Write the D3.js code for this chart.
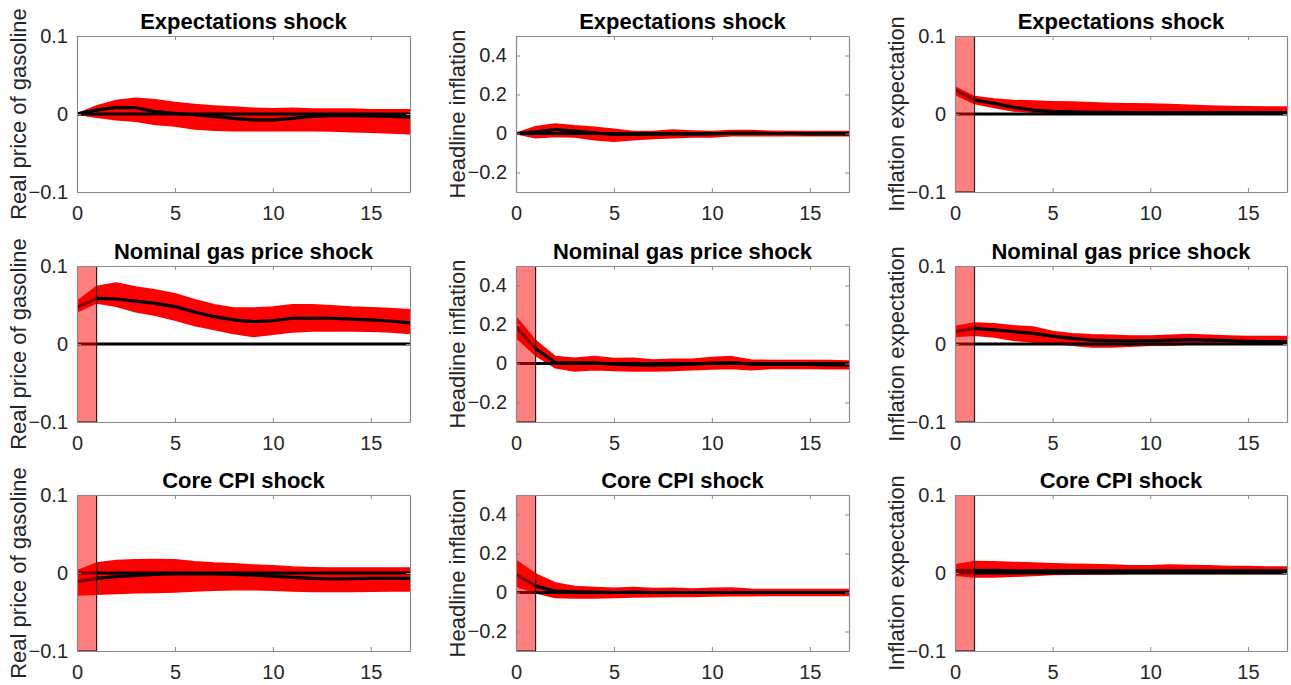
<!DOCTYPE html>
<html>
<head>
<meta charset="utf-8">
<script src="https://cdn.jsdelivr.net/npm/d3@7"></script>
<style>
  html, body { margin: 0; padding: 0; background: #fff; }
  svg text { font-family: "Liberation Sans", Arial, Helvetica, sans-serif; }
</style>
</head>
<body>
<svg id="chart" width="1291" height="685"></svg>
<script>
// ---------------- DATA ----------------
const horizons = [0,1,2,3,4,5,6,7,8,9,10,11,12,13,14,15,16,17];
const xTicks = [0, 5, 10, 15];

const rowTitles = ["Expectations shock", "Nominal gas price shock", "Core CPI shock"];
const colLabels = ["Real price of gasoline", "Headline inflation", "Inflation expectation"];
const colDomains = [[-0.1, 0.1], [-0.3, 0.5], [-0.1, 0.1]];
const colTicks = [[-0.1, 0, 0.1], [-0.2, 0, 0.2, 0.4], [-0.1, 0, 0.1]];
// impact-period shading shown in panel? [row][col]
const shaded = [[false, false, true], [true, true, true], [true, true, true]];

// Row 1: Expectations shock
const expGasUpper = [0,0.010,0.017,0.020,0.018,0.0145,0.012,0.010,0.0085,0.007,0.0065,0.007,0.006,0.006,0.006,0.005,0.005,0.005];
const expGasLower = [0,-0.004,-0.007,-0.009,-0.013,-0.015,-0.019,-0.0205,-0.021,-0.021,-0.021,-0.021,-0.021,-0.0215,-0.0225,-0.023,-0.024,-0.025];
const expGasMedian = [0,0.005,0.0085,0.008,0.003,0.001,-0.001,-0.003,-0.0055,-0.0075,-0.0075,-0.0055,-0.003,-0.002,-0.002,-0.0025,-0.003,-0.004];

const expHeadUpper = [0,0.034,0.048,0.038,0.031,0.0205,0.0085,0.0085,0.017,0.012,0.0085,0.0137,0.0137,0.010,0.0085,0.0085,0.0085,0.0085];
const expHeadLower = [0,-0.0205,-0.0137,-0.017,-0.031,-0.038,-0.031,-0.024,-0.0205,-0.017,-0.017,-0.010,-0.010,-0.010,-0.010,-0.010,-0.010,-0.010];
const expHeadMedian = [0,0.0085,0.0205,0.012,0.003,-0.005,-0.005,-0.003,-0.002,-0.003,-0.002,0.002,0.002,0,0,-0.002,-0.002,-0.002];

const expExpUpper = [0.034,0.022,0.0188,0.017,0.0162,0.0154,0.015,0.014,0.0132,0.0128,0.0124,0.012,0.011,0.010,0.0094,0.009,0.0085,0.0085];
const expExpLower = [0.0256,0.0137,0.0085,0.0043,0.0026,0.0017,0.0017,0.0017,0.0017,0.0017,0.0017,0.0017,0.0017,0.0017,0.0017,0.0017,0.0017,0.0017];
const expExpMedian = [0.031,0.018,0.0137,0.0085,0.005,0.0034,0.0026,0.0022,0.002,0.0018,0.0017,0.0017,0.0017,0.0017,0.0017,0.0017,0.0017,0.0017];

// Row 2: Nominal gas price shock
const gasGasUpper = [0.054,0.0735,0.078,0.0727,0.069,0.064,0.0564,0.050,0.0457,0.0457,0.047,0.050,0.050,0.0487,0.047,0.046,0.0453,0.0436];
const gasGasLower = [0.0415,0.053,0.0487,0.0415,0.037,0.031,0.024,0.019,0.0137,0.010,0.0128,0.0158,0.017,0.017,0.017,0.0167,0.0158,0.0137];
const gasGasMedian = [0.047,0.0585,0.0577,0.055,0.052,0.048,0.041,0.035,0.031,0.0286,0.030,0.033,0.033,0.033,0.032,0.031,0.0295,0.027];

const gasHeadUpper = [0.236,0.116,0.034,0.0256,0.034,0.024,0.0256,0.017,0.0205,0.0205,0.029,0.034,0.017,0.0137,0.0137,0.0137,0.0137,0.012];
const gasHeadLower = [0.137,0.043,-0.0205,-0.0376,-0.031,-0.034,-0.0376,-0.0376,-0.034,-0.031,-0.027,-0.024,-0.031,-0.024,-0.024,-0.024,-0.0256,-0.0256];
const gasHeadMedian = [0.188,0.077,0.005,0.0034,0.0034,-0.0034,-0.0068,-0.0085,-0.0068,-0.0034,0.0017,0.005,-0.0034,-0.005,-0.005,-0.005,-0.0068,-0.0068];

const gasExpUpper = [0.022,0.0265,0.0256,0.023,0.0214,0.0158,0.0128,0.0115,0.011,0.010,0.010,0.011,0.012,0.011,0.010,0.0094,0.0094,0.0094];
const gasExpLower = [0.010,0.0115,0.0094,0.005,0.003,0.0009,-0.0013,-0.0034,-0.0034,-0.0026,-0.0013,-0.0013,0,0,0,0,0,0];
const gasExpMedian = [0.0158,0.020,0.018,0.0158,0.0137,0.010,0.0073,0.005,0.0043,0.004,0.0043,0.005,0.0056,0.005,0.0043,0.0034,0.003,0.003];

// Row 3: Core CPI shock
const coreGasUpper = [0.0026,0.0124,0.0158,0.0167,0.017,0.0167,0.014,0.0124,0.0115,0.010,0.009,0.0073,0.0064,0.006,0.006,0.006,0.006,0.006];
const coreGasLower = [-0.028,-0.027,-0.026,-0.025,-0.0248,-0.024,-0.0226,-0.0218,-0.021,-0.021,-0.0218,-0.0226,-0.0235,-0.0235,-0.0235,-0.023,-0.0226,-0.0226];
const coreGasMedian = [-0.011,-0.007,-0.0047,-0.003,-0.0017,-0.0013,-0.0013,-0.0013,-0.0017,-0.0026,-0.004,-0.0055,-0.007,-0.0077,-0.0073,-0.007,-0.007,-0.007];

const coreHeadUpper = [0.162,0.094,0.048,0.029,0.024,0.0205,0.024,0.019,0.0205,0.017,0.0205,0.022,0.015,0.0137,0.0137,0.0137,0.0137,0.0137];
const coreHeadLower = [0.034,0,-0.024,-0.027,-0.027,-0.024,-0.022,-0.0205,-0.019,-0.019,-0.017,-0.015,-0.015,-0.0137,-0.0137,-0.0137,-0.0137,-0.0137];
const coreHeadMedian = [0.094,0.034,0.0068,0.0034,0.0017,0,0.0017,0,0,0,0,0,0,0,0,0,0,0];

const coreExpUpper = [0.010,0.0145,0.014,0.0132,0.0124,0.0115,0.011,0.0105,0.0098,0.009,0.009,0.010,0.0094,0.009,0.0081,0.0081,0.0073,0.0073];
const coreExpLower = [-0.0026,-0.0047,-0.0047,-0.0038,-0.003,-0.0017,-0.0013,-0.0009,-0.0009,-0.0004,-0.0004,-0.0004,-0.0004,-0.0004,-0.0004,-0.0004,-0.0004,-0.0004];
const coreExpMedian = [0.003,0.003,0.0034,0.0026,0.0026,0.0026,0.0026,0.0026,0.0026,0.0026,0.0026,0.0026,0.0026,0.0026,0.0026,0.0026,0.0026,0.0026];

const panelSeries = [
  [[expGasUpper, expGasLower, expGasMedian], [expHeadUpper, expHeadLower, expHeadMedian], [expExpUpper, expExpLower, expExpMedian]],
  [[gasGasUpper, gasGasLower, gasGasMedian], [gasHeadUpper, gasHeadLower, gasHeadMedian], [gasExpUpper, gasExpLower, gasExpMedian]],
  [[coreGasUpper, coreGasLower, coreGasMedian], [coreHeadUpper, coreHeadLower, coreHeadMedian], [coreExpUpper, coreExpLower, coreExpMedian]]
];

// ---------------- LAYOUT ----------------
const colLeft = [77, 516, 955];
const colWidth = [333, 333, 332];
const rowTop = [36, 266, 495];
const plotH = 156;

const svg = d3.select("#chart");
const defs = svg.append("defs");

for (let r = 0; r < 3; r++) {
  for (let c = 0; c < 3; c++) {
    const [upper, lower, median] = panelSeries[r][c];
    const x0 = colLeft[c], y0 = rowTop[r], w = colWidth[c];
    const x = d3.scaleLinear().domain([0, 17]).range([0, w]);
    const y = d3.scaleLinear().domain(colDomains[c]).range([plotH, 0]);
    const g = svg.append("g").attr("transform", `translate(${x0},${y0})`);

    const clipId = `clip-${r}-${c}`;
    defs.append("clipPath").attr("id", clipId)
      .append("rect").attr("x", 0).attr("y", 0).attr("width", w).attr("height", plotH);
    const pg = g.append("g").attr("clip-path", `url(#${clipId})`);

    const rows = horizons.map((h, i) => ({h, up: upper[i], lo: lower[i], md: median[i]}));

    // credible band
    pg.append("path").datum(rows)
      .attr("d", d3.area().x(d => x(d.h)).y0(d => y(d.lo)).y1(d => y(d.up)))
      .attr("fill", "#ff0000")
      .attr("stroke", "#ff0000")
      .attr("stroke-width", 2)
      .attr("stroke-linejoin", "round");

    // zero line
    pg.append("path").datum([0, 17])
      .attr("d", d3.line().x(d => x(d)).y(() => y(0)))
      .attr("stroke", "#000").attr("stroke-width", 3).attr("fill", "none");

    // median response
    pg.append("path").datum(rows)
      .attr("d", d3.line().x(d => x(d.h)).y(d => y(d.md)))
      .attr("stroke", "#000").attr("stroke-width", 3.2).attr("fill", "none")
      .attr("stroke-linejoin", "round");

    // impact period shading
    if (shaded[r][c]) {
      pg.append("rect")
        .attr("x", x(0)).attr("y", 0)
        .attr("width", x(1) - x(0)).attr("height", plotH)
        .attr("fill", "#ff0000").attr("fill-opacity", 0.5)
        .attr("stroke", "#222").attr("stroke-width", 1.2);
    }

    // axes
    const axisColor = "#8a8a8a";
    const textColor = "#262626";
    const xAxisB = g.append("g").attr("transform", `translate(0,${plotH})`)
      .call(d3.axisBottom(x).tickValues(xTicks).tickSizeInner(-4).tickSizeOuter(0).tickPadding(14).tickFormat(d3.format("d")));
    const xAxisT = g.append("g")
      .call(d3.axisTop(x).tickValues(xTicks).tickSizeInner(-4).tickSizeOuter(0).tickFormat(""));
    const fmt = d => d === 0 ? "0" : d3.format(".1f")(d);
    const yAxisL = g.append("g")
      .call(d3.axisLeft(y).tickValues(colTicks[c]).tickSizeInner(-4).tickSizeOuter(0).tickPadding(9).tickFormat(fmt));
    const yAxisR = g.append("g").attr("transform", `translate(${w},0)`)
      .call(d3.axisRight(y).tickValues(colTicks[c]).tickSizeInner(-4).tickSizeOuter(0).tickFormat(""));
    [xAxisB, xAxisT, yAxisL, yAxisR].forEach(a => {
      a.select(".domain").attr("stroke", axisColor).attr("stroke-width", 1.2);
      a.selectAll(".tick line").attr("stroke", axisColor).attr("stroke-width", 1);
      a.selectAll(".tick text").attr("fill", textColor)
        .style("font-size", "20px")
        .style("font-family", '"Liberation Sans", Arial, sans-serif');
    });

    // title
    g.append("text")
      .attr("x", w / 2).attr("y", -7)
      .attr("text-anchor", "middle")
      .style("font-size", "22px").style("font-weight", "bold")
      .attr("fill", "#000")
      .text(rowTitles[r]);

    // y label
    g.append("text")
      .attr("transform", `translate(${-51},${plotH / 2}) rotate(-90)`)
      .attr("text-anchor", "middle")
      .style("font-size", "22px")
      .attr("fill", textColor)
      .text(colLabels[c]);
  }
}
</script>
</body>
</html>
